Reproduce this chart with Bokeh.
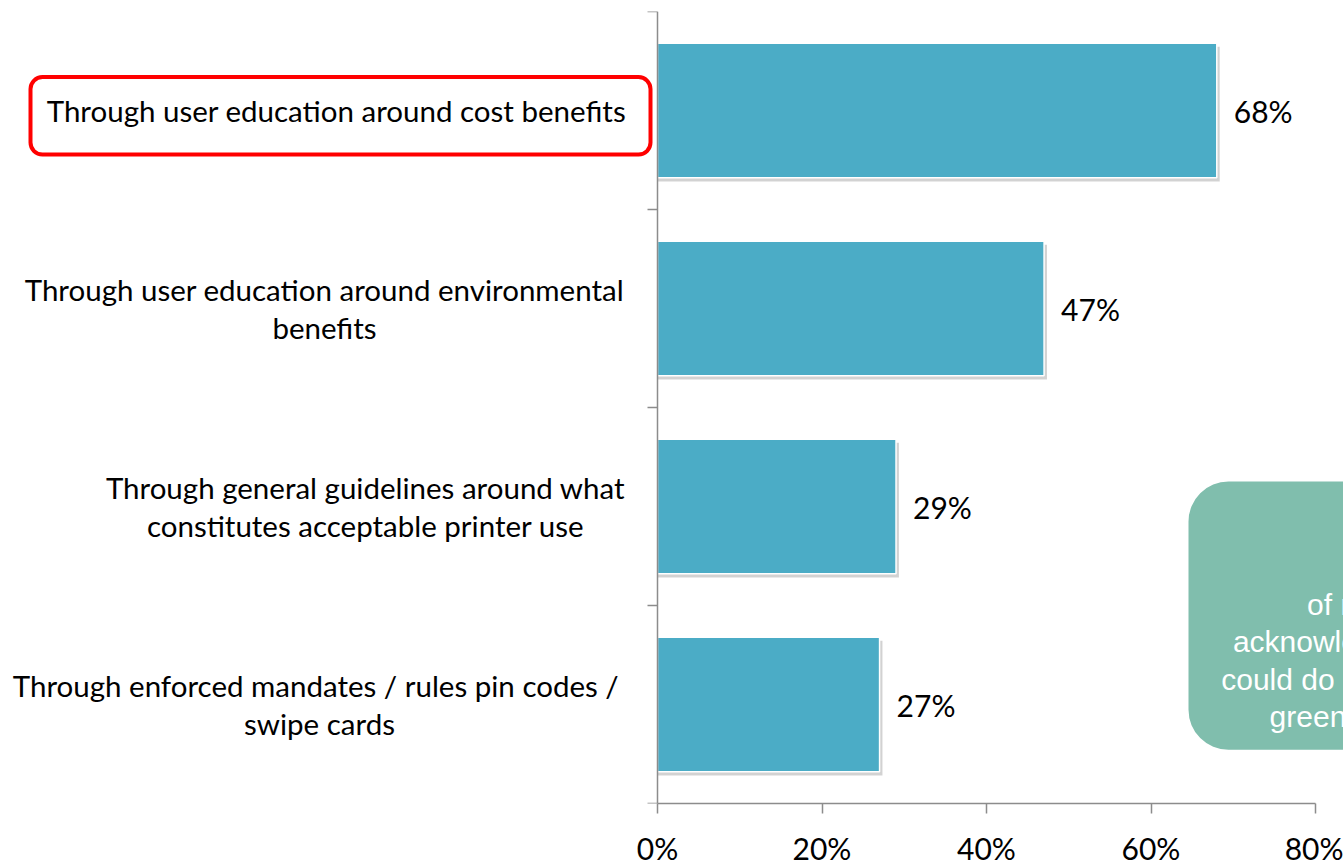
from bokeh.plotting import figure
from bokeh.models import Range1d, FixedTicker, PrintfTickFormatter, BoxAnnotation, ColumnDataSource
from bokeh.core.properties import value
from bokeh.embed import file_html
from bokeh.resources import INLINE

# ---------------- data ----------------
categories = [
    "Through user education around cost benefits",
    "Through user education around environmental\nbenefits",
    "Through general guidelines around what\nconstitutes acceptable printer use",
    "Through enforced mandates / rules  pin codes /\nswipe cards",
]
values = [68, 47, 29, 27]
value_labels = ["68%", "47%", "29%", "27%"]
x_ticks = [0, 20, 40, 60, 80]
callout_text = "of managers\nacknowledge that users\ncould do more to become\ngreener in printing"

# ---------------- layout / style ----------------
W, H = 1343, 868
ZERO_PX, MAX_PX = 657, 1315                # pixel columns of 0% and 80%
TOP, BOTTOM = 11, 808                      # frame top / bottom in pixels
PX = (MAX_PX - ZERO_PX) / 80               # pixels per percentage point
label_center_px = [336, 324, 365, 319]     # centres of the category label blocks
BAR = "#4BACC6"
AXIS = "#8c8c8c"
CALLOUT = "#80BEAD"
FONT = "Lato"
FS = "30px"
CAT_FS = "29.5px"

n = len(categories)
ys = [n - i - 0.5 for i in range(n)]
UNIT = (BOTTOM - TOP) / n                  # pixels per category


def px_x(px):
    return (px - ZERO_PX) / PX


def px_y(py):
    return n - (py - TOP) / UNIT


src = ColumnDataSource(dict(
    y=ys,
    v=values,
    lab=value_labels,
    ys=[y - 0.018 for y in ys],
    vs=[v + 0.35 for v in values],
))
cat_src = ColumnDataSource(dict(
    x=[px_x(c) for c in label_center_px],
    y=ys,
    text=categories,
))

p = figure(
    width=W, height=H,
    x_range=Range1d(px_x(0), px_x(W)), y_range=Range1d(0, n),
    output_backend="svg", toolbar_location=None,
    min_border_left=0, min_border_right=0, min_border_top=TOP, min_border_bottom=H - BOTTOM,
)
p.outline_line_color = None
p.grid.visible = False
p.background_fill_color = "white"

# shadow + bars
p.hbar(y="ys", right="vs", left=0, height=0.68, source=src,
       fill_color="#7f7f7f", fill_alpha=0.35, line_color=None)
p.hbar(y="y", right="v", left=0, height=0.68, source=src,
       fill_color=BAR, line_color="white", line_width=1.5)

# value labels
p.text(x="v", y="y", text="lab", source=src, x_offset=17,
       text_align="left", text_baseline="middle",
       text_font=value(FONT), text_font_size=FS, text_color="black")

# x axis
xa = p.xaxis[0]
xa.ticker = FixedTicker(ticks=x_ticks)
xa.formatter = PrintfTickFormatter(format="%d%%")
xa.bounds = (0, 80)
xa.axis_line_color = AXIS
xa.axis_line_width = 1.5
xa.major_tick_line_color = AXIS
xa.major_tick_line_width = 1.5
xa.major_tick_out = 10
xa.major_tick_in = 0
xa.minor_tick_line_color = None
xa.major_label_standoff = 16
xa.major_label_text_font = FONT
xa.major_label_text_font_size = FS
xa.major_label_text_color = "black"

# y axis at x = 0, ticks at the category boundaries
ya = p.yaxis[0]
ya.fixed_location = 0
ya.ticker = FixedTicker(ticks=list(range(n + 1)))
ya.major_label_overrides = {i: "" for i in range(n + 1)}
ya.major_label_standoff = 0
ya.axis_line_color = AXIS
ya.axis_line_width = 1.5
ya.major_tick_out = 10
ya.major_tick_in = 0
ya.major_tick_line_color = AXIS
ya.major_tick_line_width = 1.5
ya.minor_tick_line_color = None

# category labels (lines centred within each block)
p.text(x="x", y="y", text="text", source=cat_src,
       text_align="center", text_baseline="middle",
       text_font=value(FONT), text_font_size=CAT_FS, text_color="black",
       text_line_height=1.06)

# highlight box around the first category label
p.add_layout(BoxAnnotation(left=px_x(30), right=px_x(650), top=px_y(77), bottom=px_y(155),
                           fill_color=None, fill_alpha=0,
                           line_color="#ff0000", line_alpha=1, line_width=4, border_radius=12))

# callout box (partly outside the picture)
p.add_layout(BoxAnnotation(left=px_x(1188), right=px_x(1500), top=px_y(484), bottom=px_y(754),
                           fill_color=CALLOUT, fill_alpha=1, line_color=None,
                           border_radius=40, level="underlay"))
p.text(x=[px_x(1390)], y=[px_y(664)], text=[callout_text], text_align="center", text_baseline="middle",
       text_font=value("Liberation Sans"), text_font_size="30px", text_color="white",
       text_line_height=1.13)

open("out.html", "w").write(file_html(p, INLINE))
